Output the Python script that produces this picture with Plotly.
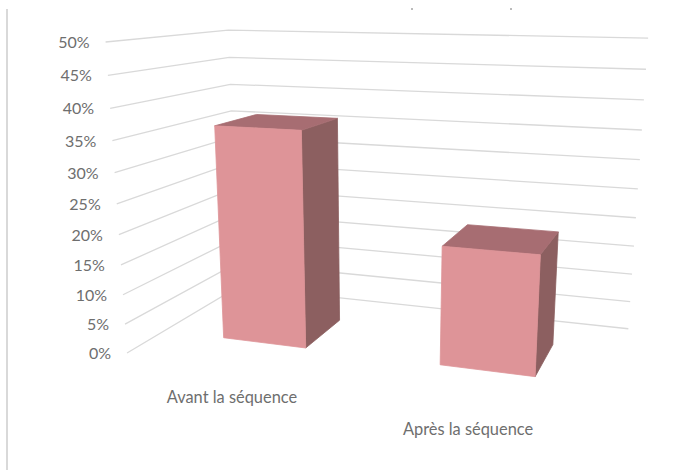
import numpy as np
import plotly.graph_objects as go

# --- data -----------------------------------------------------------------
categories = ["Avant la séquence", "Après la séquence"]
values = [36.3, 19.5]
tick_values = [0, 5, 10, 15, 20, 25, 30, 35, 40, 45, 50]
tick_labels = ["0%", "5%", "10%", "15%", "20%", "25%", "30%", "35%", "40%", "45%", "50%"]

# --- style ----------------------------------------------------------------
FRONT, SIDE, TOP = "#DE9498", "#8C5F60", "#A76D72"
GRID, TEXT, FRAME = "#D9D9D9", "#6E6E6E", "#D9D9D9"
FONT = "Lato"
Y_MAX = 50.0
BAR_W, Z0, Z1 = 0.2, 0.315, 0.70
CENTERS = [0.25, 0.755]
LABEL_CENTERS = [0.25, 0.75]

# Perspective camera of the 3-D column chart: maps (category pos, value, depth)
# to page pixels.
CAM = np.array([
    [316.2, -24.5, -133.4, 238.0],
    [2.95, -258.8, 3.66, 287.0],
    [-0.118, -0.0647, -0.1766, 1.0],
])


def project(xpos, val, depth):
    h = CAM @ np.array([xpos, val / Y_MAX, depth, 1.0])
    return h[0] / h[2], h[1] / h[2]


def poly(points, color):
    pts = [project(*p) for p in points]
    pts.append(pts[0])
    return go.Scatter(
        x=[p[0] for p in pts], y=[p[1] for p in pts], mode="lines", fill="toself",
        fillcolor=color, line=dict(color=color, width=0.8), hoverinfo="skip", showlegend=False,
    )


fig = go.Figure()

# Gridlines: left wall then back wall
for t in tick_values:
    pts = [project(0, t, 1), project(0, t, 0), project(1, t, 0)]
    fig.add_trace(go.Scatter(
        x=[p[0] for p in pts], y=[p[1] for p in pts], mode="lines",
        line=dict(color=GRID, width=1.3), hoverinfo="skip", showlegend=False,
    ))

# Columns
for c, v in zip(CENTERS, values):
    a, b = c - BAR_W / 2, c + BAR_W / 2
    fig.add_trace(poly([(b, 0, Z1), (b, 0, Z0), (b, v, Z0), (b, v, Z1)], SIDE))
    fig.add_trace(poly([(a, v, Z1), (b, v, Z1), (b, v, Z0), (a, v, Z0)], TOP))
    fig.add_trace(poly([(a, 0, Z1), (b, 0, Z1), (b, v, Z1), (a, v, Z1)], FRONT))

# Value labels
pos = [project(0, t, 1) for t in tick_values]
fig.add_trace(go.Scatter(
    x=[p[0] - 16 for p in pos], y=[p[1] + 2 for p in pos], mode="text", text=tick_labels,
    textposition="middle left", textfont=dict(family=FONT, size=16, color=TEXT),
    hoverinfo="skip", showlegend=False, cliponaxis=False,
))

# Category labels
pos = [project(c, 0, 1.05) for c in LABEL_CENTERS]
fig.add_trace(go.Scatter(
    x=[p[0] + 6.5 for p in pos], y=[p[1] + 27.5 for p in pos], mode="text", text=categories,
    textposition="middle center", textfont=dict(family=FONT, size=16.4, color=TEXT),
    hoverinfo="skip", showlegend=False, cliponaxis=False,
))

fig.update_layout(
    width=674, height=470, margin=dict(l=0, r=0, t=0, b=0),
    paper_bgcolor="white", plot_bgcolor="white", showlegend=False,
    xaxis=dict(range=[0, 674], visible=False, fixedrange=True),
    yaxis=dict(range=[470, 0], visible=False, fixedrange=True),
    shapes=[
        dict(type="line", xref="x", yref="y", x0=7, x1=7, y0=9, y1=470,
             line=dict(color=FRAME, width=2)),
        dict(type="line", xref="x", yref="y", x0=411, x1=413, y0=9, y1=9,
             line=dict(color="#777777", width=1)),
        dict(type="line", xref="x", yref="y", x0=510, x1=512, y0=9, y1=9,
             line=dict(color="#777777", width=1)),
    ],
)
fig.write_html(
    "out.html", config=dict(displayModeBar=False),
    post_script="document.body.style.margin='0';document.documentElement.style.overflow='hidden';",
)
